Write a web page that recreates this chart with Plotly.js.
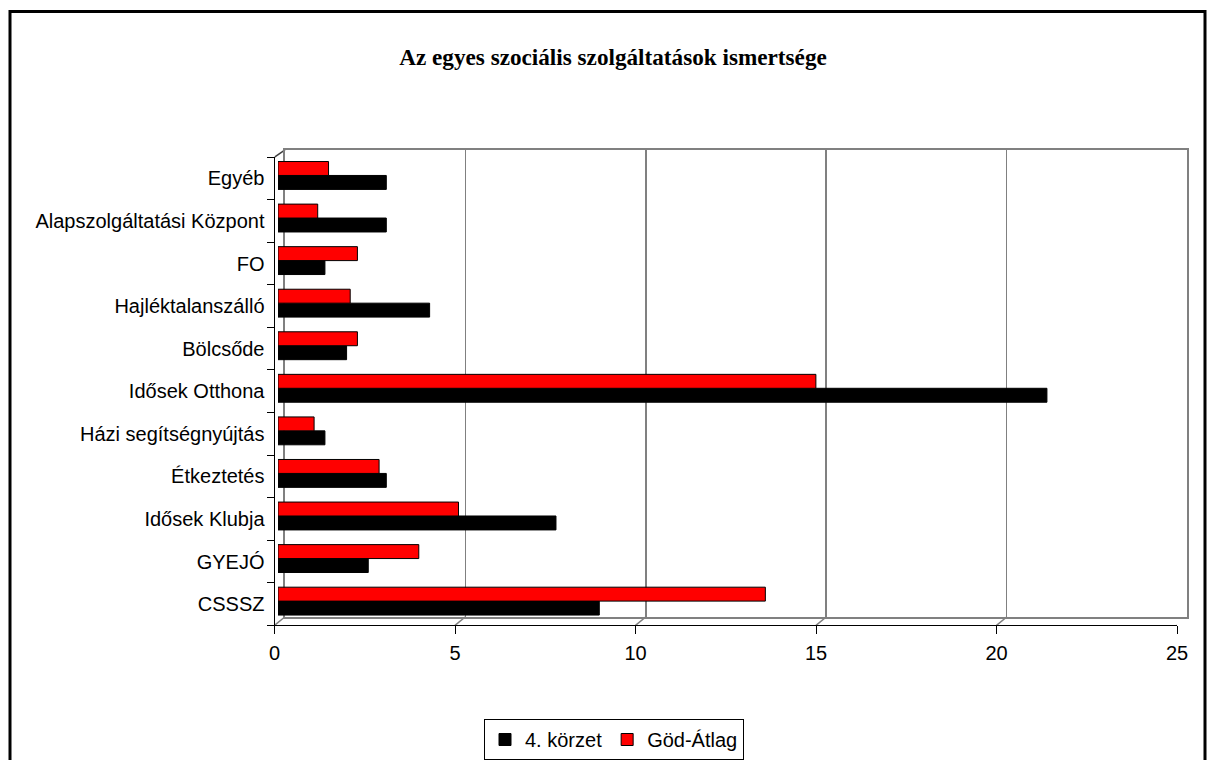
<!DOCTYPE html>
<html>
<head>
<meta charset="utf-8">
<script src="https://cdn.plot.ly/plotly-3.0.1.min.js"></script>
<style>
  html, body { margin: 0; padding: 0; background: #fff; }
  #chart { width: 1208px; height: 760px; }
</style>
</head>
<body>
<div id="chart"></div>
<script>
// ---- data ----
const categories = ['CSSSZ', 'GYEJÓ', 'Idősek Klubja', 'Étkeztetés', 'Házi segítségnyújtás',
  'Idősek Otthona', 'Bölcsőde', 'Hajléktalanszálló', 'FO', 'Alapszolgáltatási Központ', 'Egyéb'];
const korzet4 = [8.9, 2.5, 7.7, 3.0, 1.3, 21.3, 1.9, 4.2, 1.3, 3.0, 3.0];
const godAtlag = [13.5, 3.9, 5.0, 2.8, 1.0, 14.9, 2.2, 2.0, 2.2, 1.1, 1.4];
const seriesNames = ['4. körzet', 'Göd-Átlag'];
const xTicks = [0, 5, 10, 15, 20, 25];
const titleText = 'Az egyes szociális szolgáltatások ismertsége';

// ---- layout helpers (pixel -> paper) ----
const W = 1208, H = 760;
const px = v => v / W;
const py = v => 1 - v / H;
const SANS = 'Liberation Sans, Arial, sans-serif';
const FS = 20;

// front plane, back plane, bar (middle) plane in pixels
const front = {l: 274.5, r: 1177, t: 158, b: 628.7};
const back = {l: 285, r: 1187, t: 150.7, b: 620};
const mid = {l: 278, r: 1180.5, t: 155, b: 625.7};
const depthX = back.l - front.l;

const traces = [
  // back wall (grid) subplot x/y
  {type: 'scatter', x: [xTicks[0]], y: [0.5], xaxis: 'x', yaxis: 'y', mode: 'markers',
   marker: {opacity: 0}, showlegend: false, hoverinfo: 'skip'},
  // bars subplot x2/y2
  {type: 'bar', orientation: 'h', name: seriesNames[0], x: korzet4, y: categories,
   xaxis: 'x2', yaxis: 'y2', marker: {color: '#000000', line: {color: '#000000', width: 1}}},
  {type: 'bar', orientation: 'h', name: seriesNames[1], x: godAtlag, y: categories,
   xaxis: 'x2', yaxis: 'y2', marker: {color: '#FF0000', line: {color: '#000000', width: 1}}},
  // front axes subplot x3/y3
  {type: 'scatter', x: godAtlag, y: categories, xaxis: 'x3', yaxis: 'y3', mode: 'markers',
   marker: {opacity: 0}, showlegend: false, hoverinfo: 'skip'}
];

const shapes = [];
// floor diagonals at each x tick
xTicks.forEach(t => {
  shapes.push({type: 'line', xref: 'x3', xsizemode: 'pixel', xanchor: t, x0: 0, x1: depthX,
    yref: 'paper', y0: py(front.b), y1: py(back.b), line: {color: '#808080', width: 1.5}, layer: 'below'});
});
// top-left depth edge of the value axis wall
shapes.push({type: 'line', xref: 'x3', xsizemode: 'pixel', xanchor: xTicks[0], x0: 0, x1: depthX,
  yref: 'paper', y0: py(front.t), y1: py(back.t), line: {color: '#404040', width: 1.5}, layer: 'below'});
// outer frame
shapes.push({type: 'rect', xref: 'paper', yref: 'paper', x0: px(10), x1: px(1205), y0: -0.1, y1: py(11.5),
  line: {color: '#000000', width: 3}, fillcolor: 'rgba(0,0,0,0)'});

const layout = {
  width: W, height: H,
  margin: {l: 0, r: 0, t: 0, b: 0, pad: 0},
  paper_bgcolor: '#ffffff',
  plot_bgcolor: 'rgba(0,0,0,0)',
  font: {family: SANS, size: FS, color: '#000000'},
  title: {text: titleText, x: px(613), xanchor: 'center', xref: 'paper',
    y: py(57), yanchor: 'middle', yref: 'container',
    font: {family: 'Liberation Serif, Times New Roman, serif', size: 23.2, weight: 'bold', color: '#000000'}},
  barmode: 'group', bargap: 0.345, bargroupgap: 0,
  showlegend: true,
  legend: {orientation: 'h', x: px(614), xanchor: 'center', y: py(723), yanchor: 'top',
    bordercolor: '#000000', borderwidth: 1, bgcolor: '#ffffff',
    font: {family: SANS, size: FS, color: '#000000'}, traceorder: 'normal', itemwidth: 30,
    entrywidth: 0, tracegroupgap: 0},
  // back wall
  xaxis: {domain: [px(back.l), px(back.r)], range: [xTicks[0], xTicks[xTicks.length - 1]], anchor: 'y',
    tickvals: xTicks, showticklabels: false, ticks: '', showgrid: true, gridcolor: '#808080', gridwidth: 1.5,
    zeroline: false, showline: true, linecolor: '#808080', linewidth: 2, mirror: true, fixedrange: true},
  yaxis: {domain: [py(back.b), py(back.t)], range: [0, 1], anchor: 'x', showticklabels: false, ticks: '',
    showgrid: false, zeroline: false, showline: true, linecolor: '#808080', linewidth: 2, mirror: true, fixedrange: true},
  // bars
  xaxis2: {domain: [px(mid.l), px(mid.r)], range: [xTicks[0], xTicks[xTicks.length - 1]], anchor: 'y2',
    showticklabels: false, ticks: '', showgrid: false, zeroline: false, showline: false, fixedrange: true},
  yaxis2: {domain: [py(mid.b), py(mid.t)], type: 'category', categoryorder: 'array', categoryarray: categories,
    range: [-0.5, categories.length - 0.5], anchor: 'x2', showticklabels: false, ticks: '',
    showgrid: false, zeroline: false, showline: false, fixedrange: true},
  // front axes
  xaxis3: {domain: [px(front.l), px(front.r)], range: [xTicks[0], xTicks[xTicks.length - 1]], anchor: 'y3',
    tickvals: xTicks, ticktext: xTicks.map(String), ticks: 'outside', ticklen: 8, tickwidth: 1, tickcolor: '#000000',
    showgrid: false, zeroline: false, showline: true, linecolor: '#000000', linewidth: 1,
    tickfont: {family: SANS, size: FS, color: '#000000'}, ticklabelstandoff: 2, fixedrange: true},
  yaxis3: {domain: [py(front.b), py(front.t)], type: 'category', categoryorder: 'array', categoryarray: categories,
    range: [-0.5, categories.length - 0.5], anchor: 'x3', ticks: 'outside', tickson: 'boundaries', ticklen: 7,
    tickwidth: 1, tickcolor: '#000000', showgrid: false, zeroline: false, showline: true, linecolor: '#000000',
    linewidth: 1, tickfont: {family: SANS, size: FS, color: '#000000'}, ticklabelstandoff: 5, fixedrange: true},
  shapes: shapes
};

Plotly.newPlot('chart', traces, layout, {displayModeBar: false, staticPlot: true});
</script>
</body>
</html>
